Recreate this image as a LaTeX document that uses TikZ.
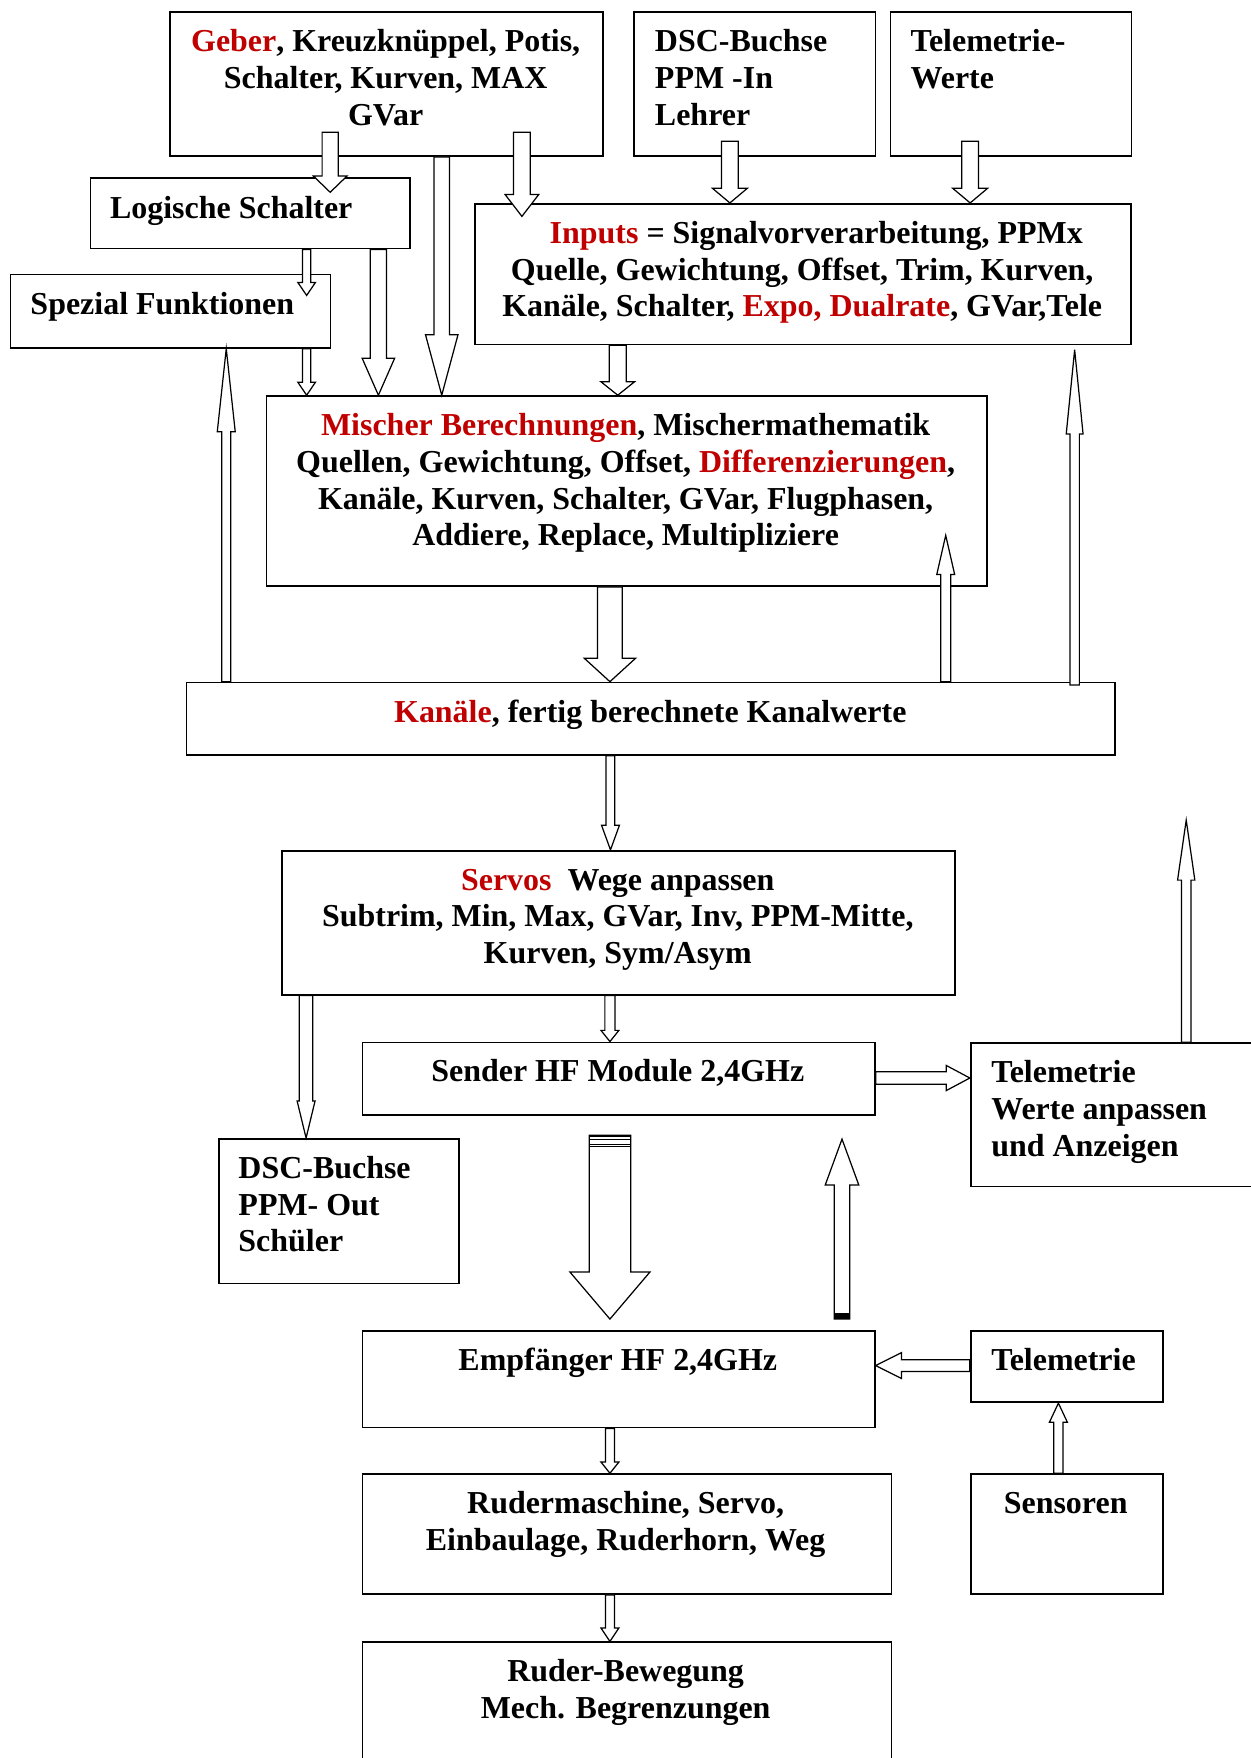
\documentclass[tikz,border=0pt]{standalone}
\usepackage{fontspec}
\setmainfont{Liberation Serif}
\usetikzlibrary{calc}
\definecolor{wred}{HTML}{C00000}
\newcommand\rd[1]{\textcolor{wred}{#1}}
\newcommand\cenlines[1]{\vtop{\baselineskip=32.8pt\lineskiplimit=-100pt\halign{\hfil##\hfil\cr#1\crcr}}}
\newcommand\leftlines[1]{\vtop{\baselineskip=32.8pt\lineskiplimit=-100pt\halign{##\hfil\cr#1\crcr}}}
% vertical block arrow: #1 x, #2 from, #3 to, #4 shaft half width, #5 head half width, #6 head length
\newcommand\varrow[6]{%
 \draw[barrow] let \p1=#2, \p2=#3, \n1={sign(\y2-\y1)*(#6)} in
  ({(#1-#4)*1pt},\y1) -- ({(#1-#4)*1pt},{\y2-\n1*1pt}) -- ({(#1-#5)*1pt},{\y2-\n1*1pt})
  -- ({#1*1pt},\y2) -- ({(#1+#5)*1pt},{\y2-\n1*1pt}) -- ({(#1+#4)*1pt},{\y2-\n1*1pt})
  -- ({(#1+#4)*1pt},\y1) -- cycle;}
% horizontal block arrow: #1 y (shown units)
\newcommand\harrow[6]{%
 \draw[barrow] let \p1=#2, \p2=#3, \n1={sign(\x2-\x1)*(#6)} in
  (\x1,{-(#1-#4)*1pt}) -- ({\x2-\n1*1pt},{-(#1-#4)*1pt}) -- ({\x2-\n1*1pt},{-(#1-#5)*1pt})
  -- (\x2,{-(#1)*1pt}) -- ({\x2-\n1*1pt},{-(#1+#5)*1pt}) -- ({\x2-\n1*1pt},{-(#1+#4)*1pt})
  -- (\x1,{-(#1+#4)*1pt}) -- cycle;}
\tikzset{
  box/.style={draw, line width=1.5pt, rectangle, inner sep=0pt, anchor=north west},
  txt/.style={inner sep=0pt, font=\fontsize{28.5}{32.8}\selectfont\bfseries},
  barrow/.style={draw, fill=white, line width=1.1pt, line join=miter}
}
\begin{document}
\begin{tikzpicture}[x=1pt,y=-1pt]
\useasboundingbox[fill=white] (0,0) rectangle (1115,1568);
% boxes
\node[box, minimum width=386pt, minimum height=128.5pt] (geber) at (151,10) {};
\node[box, minimum width=215pt, minimum height=128.5pt] (dscin) at (565,10) {};
\node[box, minimum width=215pt, minimum height=128.5pt] (telin) at (793.5,10) {};
\node[box, minimum width=285pt, minimum height=63pt] (logik) at (80,158) {};
\node[box, minimum width=285.5pt, minimum height=65.5pt] (spezial) at (8.5,244) {};
\node[box, minimum width=585pt, minimum height=125.5pt] (inputs) at (423,181) {};
\node[box, minimum width=642.5pt, minimum height=169.5pt] (mischer) at (237,352.5) {};
\node[box, minimum width=828.5pt, minimum height=64.5pt] (kanaele) at (165.5,608) {};
\node[box, minimum width=600pt, minimum height=128.5pt] (servos) at (251,758) {};
\node[box, minimum width=457pt, minimum height=64.5pt] (sender) at (322.5,929) {};
\node[box, minimum width=260pt, minimum height=128pt] (telw) at (865,929.5) {};
\node[box, minimum width=214pt, minimum height=129pt] (dscout) at (194.5,1015) {};
\node[box, minimum width=457pt, minimum height=86pt] (empf) at (322.5,1186.5) {};
\node[box, minimum width=171.5pt, minimum height=63.5pt] (telb) at (865,1186.5) {};
\node[box, minimum width=472pt, minimum height=107pt] (ruderm) at (322.5,1314) {};
\node[box, minimum width=171.5pt, minimum height=107pt] (sensoren) at (865,1314) {};
\node[box, minimum width=472pt, minimum height=125pt] (ruderb) at (322.5,1464) {};
% texts
\node[txt, anchor=base] (geber-t) at (344,46) {\cenlines{\rd{Geber}, Kreuzknüppel, Potis,\cr Schalter, Kurven, MAX\cr GVar}};
\node[txt, anchor=base west] (dscin-t) at (584,46) {\leftlines{DSC-Buchse\cr PPM -In\cr Lehrer}};
\node[txt, anchor=base west] (telin-t) at (812,46) {\leftlines{Telemetrie-\cr Werte}};
\node[txt, anchor=base west] (logik-t) at (98,194.5) {Logische Schalter};
\node[txt, anchor=base west] (spezial-t) at (27,280.5) {Spezial Funktionen};
\node[txt, anchor=base] (inputs-t) at (715.5,217) {\cenlines{\hspace*{25pt}\rd{Inputs} = Signalvorverarbeitung, PPMx\cr Quelle, Gewichtung, Offset, Trim, Kurven,\cr Kanäle, Schalter, \rd{Expo, Dualrate}, GVar,Tele}};
\node[txt, anchor=base] (mischer-t) at (558,388.5) {\cenlines{\rd{Mischer Berechnungen}, Mischermathematik\cr Quellen, Gewichtung, Offset, \rd{Differenzierungen},\cr Kanäle, Kurven, Schalter, GVar, Flugphasen,\cr Addiere, Replace, Multipliziere}};
\node[txt, anchor=base] (kanaele-t) at (580,644) {\rd{Kanäle}, fertig berechnete Kanalwerte};
\node[txt, anchor=base] (servos-t) at (551,794) {\cenlines{\rd{Servos}\ \ Wege anpassen\cr Subtrim, Min, Max, GVar, Inv, PPM-Mitte,\cr Kurven, Sym/Asym}};
\node[txt, anchor=base] (sender-t) at (551,965) {Sender HF Module 2,4GHz};
\node[txt, anchor=base west] (telw-t) at (884,965.5) {\leftlines{Telemetrie\cr Werte anpassen\cr und Anzeigen}};
\node[txt, anchor=base west] (dscout-t) at (212.5,1051) {\leftlines{DSC-Buchse\cr PPM- Out\cr Schüler}};
\node[txt, anchor=base] (empf-t) at (551,1222.5) {Empfänger HF 2,4GHz};
\node[txt, anchor=base west] (telb-t) at (884,1222.5) {Telemetrie};
\node[txt, anchor=base] (ruderm-t) at (558,1350) {\cenlines{Rudermaschine, Servo,\cr Einbaulage, Ruderhorn, Weg}};
\node[txt, anchor=base] (sensoren-t) at (950.5,1350) {Sensoren};
\node[txt, anchor=base] (ruderb-t) at (558,1500) {\cenlines{Ruder-Bewegung\cr Mech. Begrenzungen}};
\coordinate (telup) at (1058,731.5);
% arrows
\varrow{294.5}{($(geber.south)+(0,-22)$)}{($(logik.north)+(0,13.5)$)}{7.2}{15}{14.5}
\varrow{394}{(geber.south)}{(mischer.north)}{7}{14.5}{54}
\varrow{465.5}{($(geber.south)+(0,-22)$)}{($(inputs.north)+(0,12)$)}{7.5}{15}{19.5}
\varrow{273.5}{(logik.south)}{($(spezial.north)+(0,19.5)$)}{3.6}{7.8}{11.5}
\varrow{273.5}{(spezial.south)}{(mischer.north)}{3.6}{7.8}{11.5}
\varrow{337.5}{(logik.south)}{(mischer.north)}{7.2}{14.5}{33}
\varrow{651}{($(dscin.south)+(0,-14)$)}{(inputs.north)}{7.5}{15.5}{13}
\varrow{865.3}{($(telin.south)+(0,-14)$)}{(inputs.north)}{7.5}{15.5}{13}
\varrow{551}{(inputs.south)}{(mischer.north)}{7.5}{15}{12}
\varrow{201.8}{(kanaele.north)}{(spezial.south)}{4.1}{8}{74}
\varrow{958.5}{($(kanaele.north)+(0,3)$)}{($(inputs.south)+(0,4)$)}{4.2}{7.5}{75}
\varrow{843.5}{(kanaele.north)}{($(mischer.south)+(0,-46)$)}{4.5}{8}{35}
\varrow{544}{(mischer.south)}{(kanaele.north)}{11}{23}{21}
\varrow{544.5}{(kanaele.south)}{(servos.north)}{3.9}{8}{22}
\varrow{544}{(servos.south)}{(sender.north)}{4.5}{8}{10}
\varrow{273}{(servos.south)}{(dscout.north)}{6}{8}{33}
\varrow{544}{($(sender.south)+(0,17.5)$)}{($(empf.north)+(0,-10)$)}{18.5}{35.7}{42}
\varrow{751}{($(empf.north)+(0,-10)$)}{($(sender.south)+(0,21)$)}{7}{15}{41}
\harrow{961.5}{(sender.east)}{(telw.west)}{5.5}{11.2}{21}
\varrow{1058}{(telw.north)}{(telup)}{4.3}{7.7}{53.5}
\harrow{1218}{(telb.west)}{(empf.east)}{5.2}{11.5}{23}
\varrow{944}{(sensoren.north)}{(telb.south)}{4.2}{8}{17}
\varrow{544}{(empf.south)}{(ruderm.north)}{4}{8}{10}
\varrow{544}{(ruderm.south)}{(ruderb.north)}{4}{8}{12}
% stripes on the big down arrow, black band on the up arrow
\foreach \yy in {1013.3,1016.3,1020.5,1022.9}
  \draw[line width=1pt] (525.5,\yy) -- (562.5,\yy);
\fill (744,1171) rectangle (758,1176);
\end{tikzpicture}
\end{document}
